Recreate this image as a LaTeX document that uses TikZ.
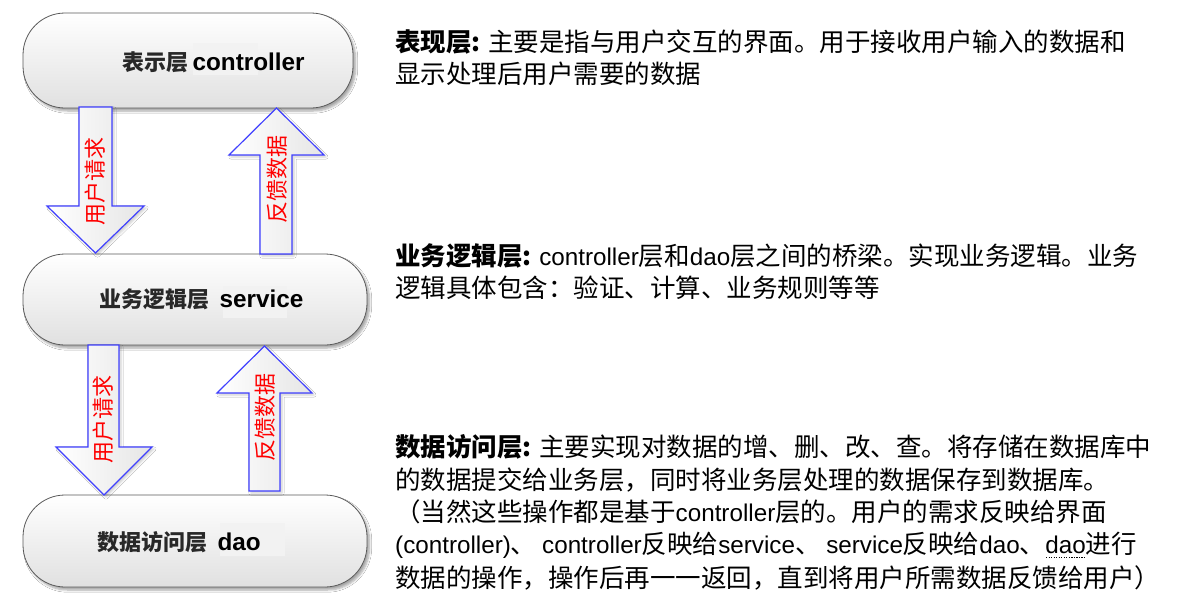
\documentclass[tikz,border=0pt]{standalone}
\usepackage{fontspec}
\setmainfont{Noto Sans CJK SC}
\newfontfamily\lat{Liberation Sans}[Scale=0.95]
\newfontfamily\latb{Liberation Sans}
\usetikzlibrary{shadows.blur}
\definecolor{arrblue}{RGB}{64,64,255}
\definecolor{lbl}{RGB}{40,40,40}
\newcommand\dotu[1]{\setbox0\hbox{#1}\rlap{\raisebox{-5pt}[0pt][0pt]{\hbox to \wd0{\xleaders\hbox to 2.5pt{\hss\rule{1.2pt}{0.8pt}\hss}\hfill}}}\box0}
\begin{document}
\begin{tikzpicture}[x=1pt,y=-1pt,
 layerbox/.style={draw=black!65, line width=0.8pt, rounded corners=42pt, inner sep=0pt,
   top color=white, bottom color=black!12,
   blur shadow={shadow xshift=2.5pt, shadow yshift=-3pt, shadow opacity=35, shadow blur steps=6}},
 blockarrow/.style={draw=arrblue, line width=1.2pt, left color=white, right color=black!10, line join=miter,
   blur shadow={shadow xshift=2pt, shadow yshift=-2pt, shadow opacity=20, shadow blur steps=4}},
 arrlabel/.style={rotate=90, text=red, font=\fontsize{22}{25}\selectfont, inner sep=0pt},
 desc/.style={anchor=west, inner sep=0pt, font=\fontsize{25.5}{30}\selectfont},
 boxcjk/.style={anchor=west, inner sep=0pt, text=lbl, font=\fontsize{22}{26}\selectfont\bfseries},
 boxlat/.style={anchor=west, inner sep=0pt, text=black, font=\fontsize{24.3}{28}\latb\bfseries},
 hl/.style={fill=black!5, draw=none}
]
\fill[white] (0,0) rectangle (1182,600);
\useasboundingbox (0,0) rectangle (1182,600);

% layer boxes
\node[layerbox, minimum width=330pt, minimum height=95pt] (ctl) at (188,60.5) {};
\node[layerbox, minimum width=344pt, minimum height=91pt] (svc) at (195,299.5) {};
\node[layerbox, minimum width=344pt, minimum height=92pt] (dao) at (195,541) {};

% highlights behind latin words
\fill[hl] (193,43) rectangle (258,75);
\fill[hl] (223,286) rectangle (287,318);
\fill[hl] (220,523) rectangle (285,556);

% box labels
\node[boxcjk] (t1a) at (122,62) {表示层};
\node[boxlat] (t1b) at ([xshift=4pt]t1a.east) {controller};
\node[boxcjk] (t2a) at (99,299) {业务逻辑层};
\node[boxlat] (t2b) at ([xshift=10pt]t2a.east) {service};
\node[boxcjk] (t3a) at (97,542) {数据访问层};
\node[boxlat] (t3b) at ([xshift=10pt]t3a.east) {dao};

% block arrows
\path[blockarrow] (79,107) -- (79,206) -- (47,206) -- (95.5,253) -- (144,206) -- (112,206) -- (112,107) -- cycle;
\path[blockarrow] (260,254) -- (260,155) -- (229,155) -- (276.5,108) -- (324,155) -- (292,155) -- (292,254) -- cycle;
\path[blockarrow] (88,345) -- (88,447) -- (56,447) -- (104,495) -- (152,447) -- (119,447) -- (119,345) -- cycle;
\path[blockarrow] (249,491) -- (249,393) -- (217,393) -- (264.5,346) -- (312,393) -- (280,393) -- (280,491) -- cycle;

% arrow labels
\node[arrlabel] (a1) at (95,181) {用户请求};
\node[arrlabel] (a2) at (277,179) {反馈数据};
\node[arrlabel] (a3) at (103,419) {用户请求};
\node[arrlabel] (a4) at (265,417) {反馈数据};

% descriptions
\node[desc] (d11) at (395,42) {{\bfseries 表现层:} 主要是指与用户交互的界面。用于接收用户输入的数据和};
\node[desc] (d12) at (395,74) {显示处理后用户需要的数据};

\node[desc] (d21) at (395,256) {{\bfseries 业务逻辑层:} {\lat controller}层和{\lat dao}层之间的桥梁。实现业务逻辑。业务};
\node[desc] (d22) at (395,288) {逻辑具体包含：验证、计算、业务规则等等};

\node[desc] (d31) at (395,447) {{\bfseries 数据访问层:} 主要实现对数据的增、删、改、查。将存储在数据库中};
\node[desc] (d32) at (395,480) {的数据提交给业务层，同时将业务层处理的数据保存到数据库。};
\node[desc] (d33) at (395,512) {（当然这些操作都是基于{\lat controller}层的。用户的需求反映给界面};
\node[desc] (d34) at (395,545) {{\lat (controller)}、 {\lat controller}反映给{\lat service}、 {\lat service}反映给{\lat dao}、\dotu{\lat dao}进行};
\node[desc] (d35) at (395,578) {数据的操作，操作后再一一返回，直到将用户所需数据反馈给用户）};
\end{tikzpicture}
\end{document}
